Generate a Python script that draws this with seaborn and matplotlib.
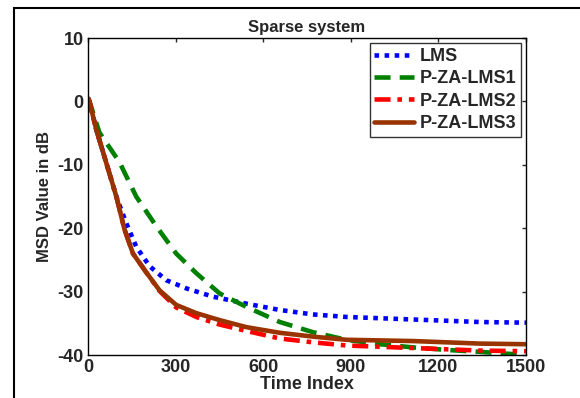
import numpy as np
import pandas as pd
import seaborn as sns
import matplotlib.pyplot as plt
from matplotlib.patches import Rectangle

# curves (time index, MSD in dB)
lms_x = [0, 5, 28, 62, 97, 131, 165, 211, 268, 337, 428, 542, 657, 770, 885, 1000, 1113, 1228, 1342, 1500]
lms_y = [0.5, 0, -4.4, -9.6, -15, -19.2, -22.9, -26, -28.2, -29.5, -30.8, -31.9, -32.9, -33.6, -34, -34.2, -34.4, -34.6, -34.8, -34.9]

za1_x = [0, 5, 39, 108, 165, 234, 302, 371, 451, 542, 657, 770, 885, 1000, 1113, 1228, 1342, 1500]
za1_y = [0.5, 0, -4.9, -9.6, -15, -19.7, -24, -27.1, -30.3, -32.4, -34.8, -36.4, -37.6, -38.3, -38.8, -39.2, -39.5, -40]

za2_x = [0, 5, 28, 62, 97, 125, 154, 200, 245, 302, 371, 451, 542, 657, 770, 885, 1000, 1113, 1228, 1342, 1500]
za2_y = [0.5, 0, -4.4, -9.6, -15, -20.2, -24, -27, -29.9, -32.5, -34, -35.2, -36.2, -37.4, -38, -38.5, -38.7, -38.9, -39.1, -39.3, -39.4]

za3_x = [0, 5, 28, 62, 97, 125, 154, 200, 245, 302, 371, 451, 542, 657, 770, 885, 1000, 1113, 1228, 1342, 1500]
za3_y = [0.5, 0, -4.4, -9.6, -15, -20.2, -24, -27, -29.8, -32.1, -33.4, -34.5, -35.6, -36.5, -37.1, -37.6, -37.7, -37.8, -38, -38.2, -38.3]

x_ticks = [0, 300, 600, 900, 1200, 1500]
y_ticks = [-40, -30, -20, -10, 0, 10]

sns.set_style("white")
plt.rcParams['font.family'] = ['Liberation Sans', 'DejaVu Sans']
plt.rcParams['font.weight'] = 'bold'
plt.rcParams['axes.unicode_minus'] = False

fig = plt.figure(figsize=(5.8, 3.98), dpi=100)
fig.patches.append(Rectangle((14/580, -0.01), 1.0, 1 - 8/398 + 0.01, transform=fig.transFigure,
                             fill=False, edgecolor='black', linewidth=1.5))
ax = fig.add_axes([88/580, (398-355)/398, (526-88)/580, (355-38)/398])

sns.lineplot(x=lms_x, y=lms_y, ax=ax, color='#0000ff', lw=3.3, linestyle=(0, (1, 1.2)), label='LMS')
sns.lineplot(x=za1_x, y=za1_y, ax=ax, color='#008000', lw=3.3, linestyle=(0, (3.5, 2)), label='P-ZA-LMS1')
sns.lineplot(x=za2_x, y=za2_y, ax=ax, color='#ff0000', lw=3.3, linestyle=(0, (3.5, 1.5, 1, 1.5)), label='P-ZA-LMS2')
sns.lineplot(x=za3_x, y=za3_y, ax=ax, color='#993300', lw=3.3, label='P-ZA-LMS3')

ax.set_xlim(0, 1500)
ax.set_ylim(-40, 10)
ax.set_xticks(x_ticks)
ax.set_yticks(y_ticks)
ax.tick_params(direction='in', length=3, top=True, right=True, labelsize=13, width=1, pad=3)
for s in ax.spines.values():
    s.set_color('black')
    s.set_linewidth(1)
for lab in ax.get_xticklabels() + ax.get_yticklabels():
    lab.set_fontweight('bold')

ax.set_title('Sparse system', fontsize=12, fontweight='bold', pad=4)
ax.set_xlabel('Time Index', fontsize=13, fontweight='bold', labelpad=0)
ax.set_ylabel('MSD Value in dB', fontsize=12, fontweight='bold', labelpad=4)

leg = ax.legend(loc='upper right', fontsize=13, frameon=True, fancybox=False,
                handlelength=2.2, handletextpad=0.3, borderpad=0.25, labelspacing=0.3,
                borderaxespad=0.3)
leg.get_frame().set_edgecolor('black')
leg.get_frame().set_linewidth(1)
for t in leg.get_texts():
    t.set_fontweight('bold')

fig.savefig('out.png', dpi=100)
